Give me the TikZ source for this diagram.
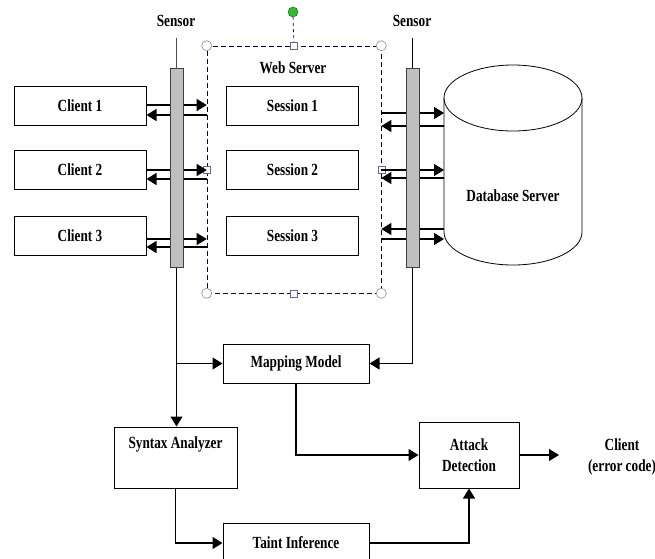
\documentclass[tikz,border=0pt]{standalone}
\usepackage{fontspec}
\setmainfont{Liberation Serif}[FakeStretch=0.78]
\usetikzlibrary{arrows.meta,positioning}

\tikzset{
  box/.style={draw, line width=1pt, minimum width=132pt, minimum height=39pt,
    inner sep=2pt, align=center, font=\fontsize{17}{21}\selectfont\bfseries},
  lbl/.style={inner sep=1pt, align=center, font=\fontsize{17}{21}\selectfont\bfseries},
  flow/.style={line width=1.1pt, -{Triangle[length=10pt,width=12pt]}},
  sensorbar/.style={draw=black!75, fill=black!25, line width=1pt,
    minimum width=13pt, minimum height=199pt, inner sep=0pt},
  webframe/.style={draw=black!75!blue, line width=0.6pt, dash pattern=on 5pt off 3pt,
    minimum width=174pt, minimum height=247pt, inner sep=0pt},
  cornerhandle/.style={circle, draw=black!45, fill=white, line width=0.6pt,
    inner sep=0pt, minimum size=10pt},
  sidehandle/.style={rectangle, draw=blue!40!black!60, fill=white, line width=0.6pt,
    inner sep=0pt, minimum size=7pt},
}

\begin{document}
\begin{tikzpicture}[x=1pt, y=-1pt]
    \useasboundingbox (0,0) rectangle (655,558);

    % clients and sessions
    \foreach \i/\y in {1/106, 2/170, 3/236}{
      \node[box] (c\i) at (80,\y) {Client \i};
      \node[box] (s\i) at (292.5,\y) {Session \i};
    }

    % web server frame with its selection handles
    \node[webframe] (web) at (294,169.5) {};
    \node[lbl] (weblbl) at (293,68) {Web Server};
    \node[circle, draw=green!40!black, fill=green!65!black!80, inner sep=0pt,
      minimum width=8pt, minimum height=10pt] (rot) at (293,12) {};
    \draw[draw=black!60!blue, line width=0.6pt, dashed] (rot.south) -- (web.north);
    \foreach \a in {north west, north east, south west, south east}{
      \node[cornerhandle] at (web.\a) {};
    }
    \foreach \a in {north, south, west, east}{
      \node[sidehandle] at (web.\a) {};
    }

    % database
    \def \dbx{513}
    \def \dbrx{69}
    \def \dbry{33}
    \def \dbtop{98}
    \def \dbbot{232}
    \draw[line width=0.8pt] (\dbx,\dbtop) ellipse ({\dbrx} and {\dbry});
    \draw[line width=0.8pt] (\dbx-\dbrx,\dbtop) -- (\dbx-\dbrx,\dbbot)
      arc (180:360:{\dbrx} and {-\dbry}) -- (\dbx+\dbrx,\dbtop);
    \coordinate (dbw) at (\dbx-\dbrx,\dbtop);
    \node[lbl] (db) at (\dbx,196) {Database Server};

    % client <-> web server
    \foreach \i/\yr/\yl in {1/105/115, 2/170/179, 3/239/247}{
      \draw[flow] (c\i.east |- 0,\yr) -- (web.west |- 0,\yr);
      \draw[flow] (web.west |- 0,\yl) -- (c\i.east |- 0,\yl);
    }

    % web server <-> database
    \foreach \yr/\yl in {113/126, 170/178, 239/229}{
      \draw[flow] (web.east |- 0,\yr) -- (dbw |- 0,\yr);
      \draw[flow] (dbw |- 0,\yl) -- (web.east |- 0,\yl);
    }

    % sensors
    \node[sensorbar] (sen1) at (176.5,167.5) {};
    \node[sensorbar] (sen2) at (412.5,167.5) {};
    \node[lbl] (sen1lbl) at (176,21) {Sensor};
    \node[lbl] (sen2lbl) at (412,21) {Sensor};
    \draw[black!70, line width=1pt] (sen1.north) -- (sen1.north |- 0,38);
    \draw[black, line width=0.8pt] (sen2.north) -- (sen2.north |- 0,38);

    % analysis blocks
    \node[box, minimum width=146pt] (map) at (296,363.5) {Mapping Model};
    \node[box, minimum width=123pt, minimum height=61pt] (syn) at (175.5,457.5) {Syntax Analyzer\\[2pt]\strut};
    \node[box, minimum width=146pt, minimum height=40pt] (taint) at (296,543) {Taint Inference};
    \node[box, minimum width=100pt, minimum height=66pt] (att) at (469,455) {Attack\\Detection};
    \node[lbl] (errc) at (622,457) {Client\\(error code)};
    \coordinate (out) at (559,455);

    \draw[flow] (sen1.south) -- (sen1.south |- syn.north);
    \draw[flow] (sen1.south |- map.west) -- (map.west);
    \draw[flow] (sen2.south) |- (map.east);
    \draw[flow] (syn.south) |- (taint.west);
    \draw[flow] (map.south) |- (att.west);
    \draw[flow] (taint.east) -| (att.south);
    \draw[flow] (att.east) -- (out);
\end{tikzpicture}
\end{document}
